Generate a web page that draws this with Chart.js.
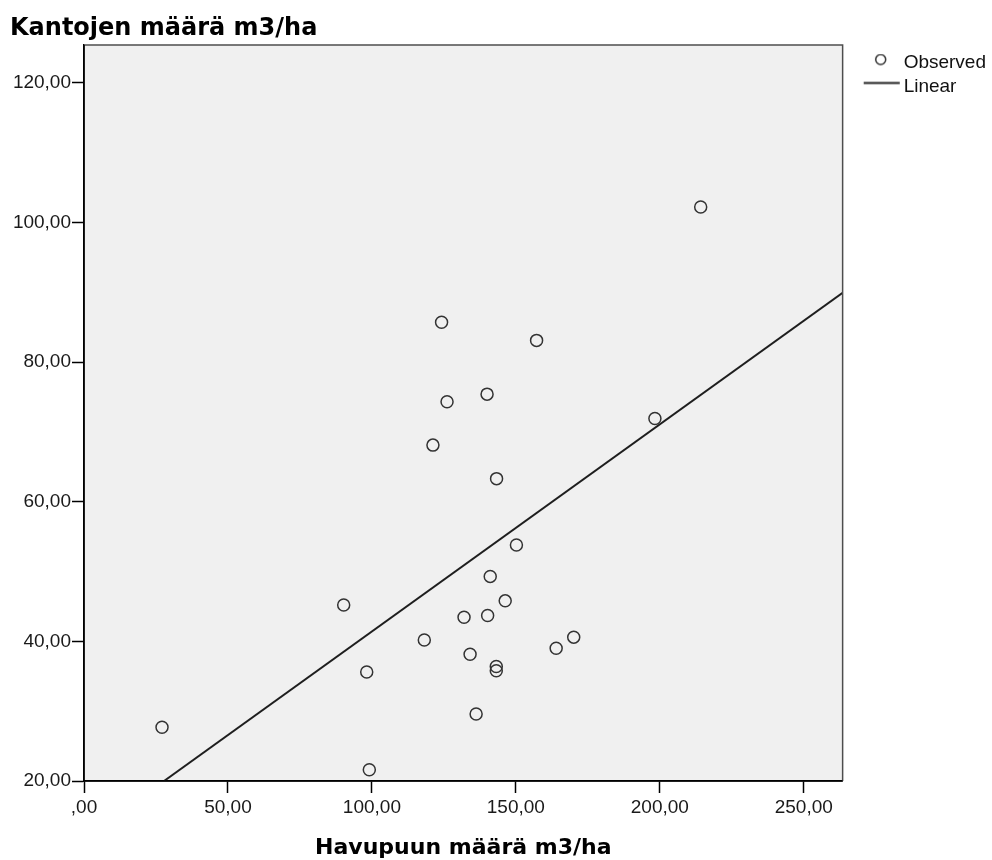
<!DOCTYPE html>
<html><head><meta charset="utf-8">
<script src="https://cdn.jsdelivr.net/npm/chart.js@4.4.1/dist/chart.umd.min.js"></script>
<style>html,body{margin:0;padding:0;background:#fff;} canvas{display:block;}</style>
</head><body>
<canvas id="c" width="992" height="860"></canvas>
<script>
const chartTitle = 'Kantojen määrä m3/ha';
const xAxisTitle = 'Havupuun määrä m3/ha';
const seriesNames = ['Observed', 'Linear'];
const observedX = [27.1, 90.2, 98.2, 99.1, 118.2, 121.2, 124.2, 126.1, 132.0, 134.1, 136.2, 140.0, 140.2, 141.1, 143.3, 143.2, 143.2, 146.3, 150.2, 157.2, 164.0, 170.1, 198.3, 214.2];
const observedY = [27.7, 45.2, 35.6, 21.6, 40.2, 68.1, 85.7, 74.3, 43.45, 38.15, 29.6, 75.4, 43.7, 49.3, 63.3, 36.4, 35.8, 45.8, 53.8, 83.1, 39.0, 40.6, 71.9, 102.2];
const linearX = [27.8, 263.5];
const linearY = [20, 89.9];
const xTickValues = [0, 50, 100, 150, 200, 250];
const xTickLabels = [',00', '50,00', '100,00', '150,00', '200,00', '250,00'];
const yTickValues = [20, 40, 60, 80, 100, 120];
const yTickLabels = ['20,00', '40,00', '60,00', '80,00', '100,00', '120,00'];
const xRange = [0, 263.5];
const yRange = [20, 125.4];

const tickFont = {family: "'Liberation Sans', Arial, sans-serif", size: 19};
const boldFamily = "'DejaVu Sans', sans-serif";

function makeCircleIcon() {
  const c = document.createElement('canvas');
  c.width = 40; c.height = 18;
  const g = c.getContext('2d');
  g.strokeStyle = '#333'; g.lineWidth = 1.5;
  g.beginPath(); g.arc(29.75, 6, 5, 0, Math.PI * 2); g.stroke();
  return c;
}
function makeLineIcon() {
  const c = document.createElement('canvas');
  c.width = 58; c.height = 14;
  const g = c.getContext('2d');
  g.strokeStyle = '#222'; g.lineWidth = 2;
  g.beginPath(); g.moveTo(21.75, 3.5); g.lineTo(57.75, 3.5); g.stroke();
  return c;
}
const legendIcons = [makeCircleIcon(), makeLineIcon()];

const framePlugin = {
  id: 'frame',
  beforeDraw(chart) {
    const {ctx, chartArea: a} = chart;
    ctx.save();
    ctx.fillStyle = '#f0f0f0';
    ctx.fillRect(a.left, a.top, a.right - a.left, a.bottom - a.top);
    ctx.restore();
  },
  afterDatasetsDraw(chart) {
    const {ctx, chartArea: a} = chart;
    ctx.save();
    ctx.strokeStyle = '#4d4d4d';
    ctx.lineWidth = 1.5;
    ctx.beginPath();
    ctx.moveTo(a.left, a.top); ctx.lineTo(a.right, a.top); ctx.lineTo(a.right, a.bottom);
    ctx.stroke();
    ctx.strokeStyle = '#000';
    ctx.beginPath();
    ctx.moveTo(a.left, a.top); ctx.lineTo(a.left, a.bottom); ctx.lineTo(a.right, a.bottom);
    ctx.stroke();
    ctx.restore();
  }
};

new Chart(document.getElementById('c'), {
  type: 'scatter',
  data: {
    datasets: [
      {
        label: seriesNames[0],
        data: observedX.map((x, i) => ({x: x, y: observedY[i]})),
        pointStyle: 'circle',
        pointRadius: 6,
        pointBorderWidth: 1.5,
        borderColor: '#333',
        backgroundColor: 'rgba(0,0,0,0)',
        pointHoverRadius: 6
      },
      {
        type: 'line',
        label: seriesNames[1],
        data: linearX.map((x, i) => ({x: x, y: linearY[i]})),
        borderColor: '#1e1e1e',
        borderWidth: 2,
        pointRadius: 0,
        fill: false,
        tension: 0
      }
    ]
  },
  options: {
    responsive: false,
    animation: false,
    devicePixelRatio: 1,
    layout: {padding: {left: 10, right: -4, top: 0, bottom: 0}},
    plugins: {
      title: {
        display: true,
        text: chartTitle,
        align: 'start',
        color: '#000',
        font: {family: boldFamily, weight: 'bold', size: 24, lineHeight: 1.2},
        padding: {top: 14.3, bottom: 1.9}
      },
      legend: {
        display: true,
        position: 'right',
        align: 'start',
        fullSize: false,
        title: {display: true, text: ' ', font: {size: 2, lineHeight: 1}, padding: {top: 1, bottom: 0}},
        labels: {
          usePointStyle: true,
          pointStyleWidth: 46.5,
          boxHeight: 19,
          padding: 5,
          color: '#111',
          font: tickFont,
          generateLabels(chart) {
            const items = Chart.defaults.plugins.legend.labels.generateLabels(chart);
            items.forEach((it, i) => { it.pointStyle = legendIcons[i]; });
            return items;
          }
        }
      },
      tooltip: {enabled: false}
    },
    scales: {
      x: {
        type: 'linear',
        min: xRange[0],
        max: xRange[1],
        afterBuildTicks(scale) { scale.ticks = xTickValues.map(v => ({value: v})); },
        afterFit(scale) { scale.height = 79; },
        ticks: {
          font: tickFont,
          color: '#1a1a1a',
          padding: 3,
          maxRotation: 0,
          autoSkip: false,
          callback(v) { const i = xTickValues.indexOf(v); return i >= 0 ? xTickLabels[i] : ''; }
        },
        grid: {drawOnChartArea: false, drawTicks: true, tickLength: 12, tickColor: '#000', tickWidth: 1.5},
        border: {display: true, color: '#000', width: 1.5},
        title: {
          display: true,
          text: xAxisTitle,
          color: '#000',
          font: {family: boldFamily, weight: 'bold', size: 22, lineHeight: 1.1},
          padding: {top: 0, bottom: 0}
        }
      },
      y: {
        type: 'linear',
        min: yRange[0],
        max: yRange[1],
        afterBuildTicks(scale) { scale.ticks = yTickValues.map(v => ({value: v})); },
        afterFit(scale) { scale.width = 74; },
        ticks: {
          font: tickFont,
          color: '#1a1a1a',
          padding: 1,
          autoSkip: false,
          callback(v) { const i = yTickValues.indexOf(v); return i >= 0 ? yTickLabels[i] : ''; }
        },
        grid: {drawOnChartArea: false, drawTicks: true, tickLength: 12, tickColor: '#000', tickWidth: 1.5},
        border: {display: true, color: '#000', width: 1.5}
      }
    }
  },
  plugins: [framePlugin]
});
</script>
</body></html>
